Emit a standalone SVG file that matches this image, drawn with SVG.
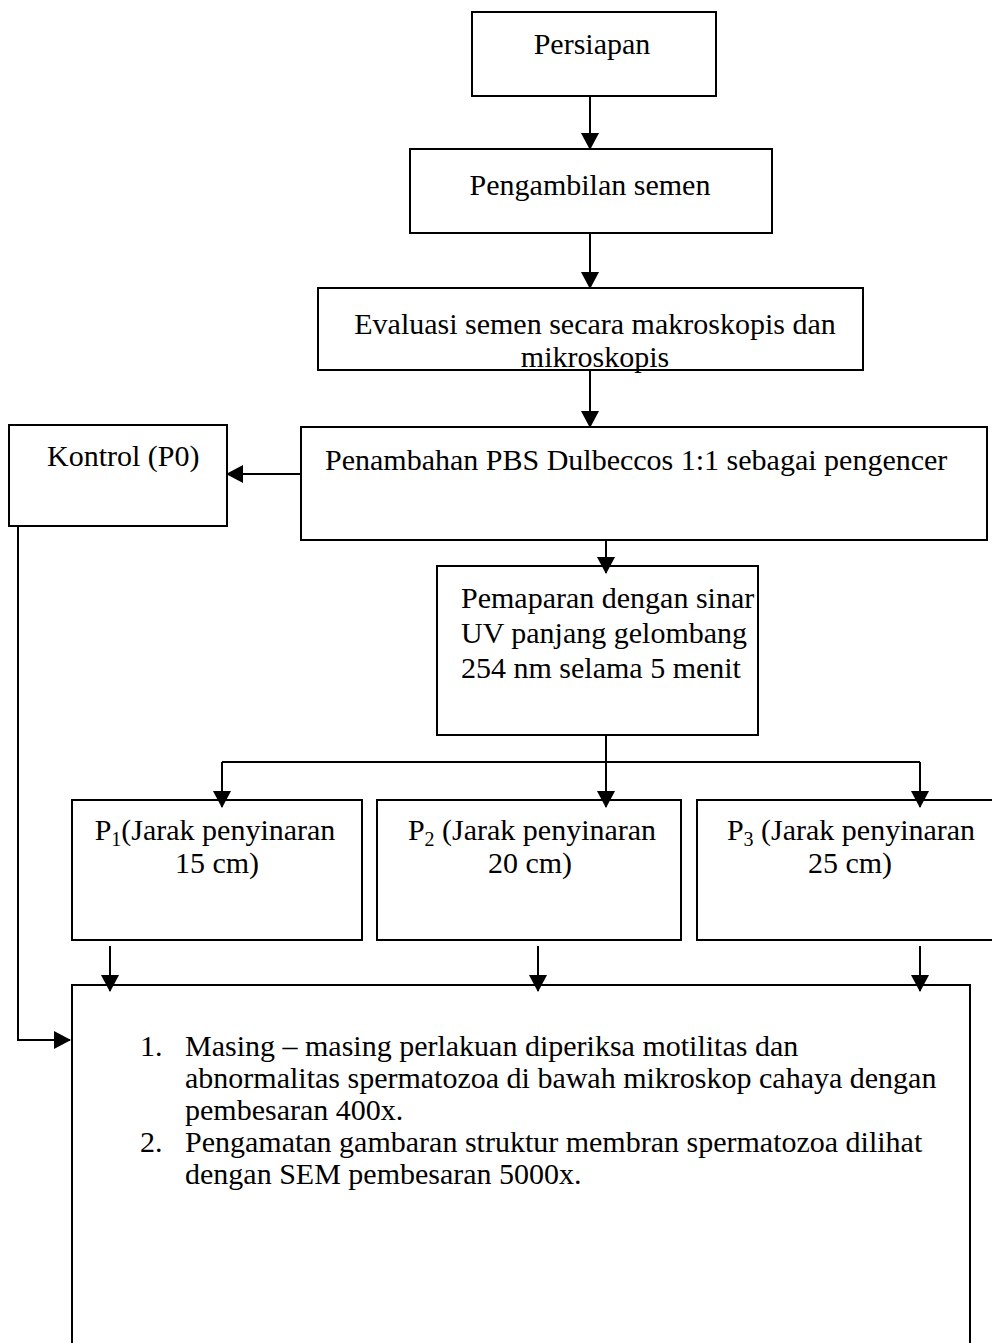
<svg xmlns="http://www.w3.org/2000/svg" width="992" height="1343" viewBox="0 0 992 1343">
<style>
  .box { fill: #ffffff; stroke: #000000; stroke-width: 2; }
  .t { font-family: "Liberation Serif", "Times New Roman", serif; font-size: 30px; fill: #000000; }
  .c { text-anchor: middle; }
  .ln { fill: none; stroke: #000000; stroke-width: 2; }
  .ar { fill: none; stroke: #000000; stroke-width: 2; marker-end: url(#ah); }
</style>
<defs>
  <marker id="ah" markerWidth="17" markerHeight="18" refX="16" refY="9" orient="auto" markerUnits="userSpaceOnUse">
    <path d="M0,0 L17,9 L0,18 z" fill="#000000"/>
  </marker>
</defs>
<rect width="992" height="1343" fill="#ffffff"/>

<g id="persiapan">
  <rect class="box" x="472" y="12" width="244" height="84"/>
  <text class="t c" x="592" y="54">Persiapan</text>
</g>
<g id="pengambilan">
  <rect class="box" x="410" y="149" width="362" height="84"/>
  <text class="t c" x="590" y="195">Pengambilan semen</text>
</g>
<g id="evaluasi">
  <text class="t c" x="595" y="334">Evaluasi semen secara makroskopis dan</text>
  <text class="t c" x="595" y="367">mikroskopis</text>
  <rect class="box" x="318" y="288" width="545" height="82" style="fill:none"/>
</g>
<g id="kontrol">
  <rect class="box" x="9" y="425" width="218" height="101"/>
  <text class="t" x="47" y="466">Kontrol (P0)</text>
</g>
<g id="penambahan">
  <rect class="box" x="301" y="427" width="686" height="113"/>
  <text class="t" x="325" y="470">Penambahan PBS Dulbeccos 1:1 sebagai pengencer</text>
</g>
<g id="pemaparan">
  <rect class="box" x="437" y="566" width="321" height="169"/>
  <text class="t" x="461" y="608">Pemaparan dengan sinar</text>
  <text class="t" x="461" y="643">UV panjang gelombang</text>
  <text class="t" x="461" y="678">254 nm selama 5 menit</text>
</g>
<g id="p1">
  <rect class="box" x="72" y="800" width="290" height="140"/>
  <text class="t c" x="215" y="840">P<tspan font-size="20" dy="6">1</tspan><tspan dy="-6">(Jarak penyinaran</tspan></text>
  <text class="t c" x="217" y="873">15 cm)</text>
</g>
<g id="p2">
  <rect class="box" x="377" y="800" width="304" height="140"/>
  <text class="t c" x="532" y="840">P<tspan font-size="20" dy="6">2</tspan><tspan dy="-6"> (Jarak penyinaran</tspan></text>
  <text class="t c" x="530" y="873">20 cm)</text>
</g>
<g id="p3">
  <rect class="box" x="697" y="800" width="320" height="140"/>
  <text class="t c" x="851" y="840">P<tspan font-size="20" dy="6">3</tspan><tspan dy="-6"> (Jarak penyinaran</tspan></text>
  <text class="t c" x="850" y="873">25 cm)</text>
</g>
<g id="hasil">
  <rect class="box" x="72" y="985" width="898" height="380"/>
  <text class="t" x="140" y="1056">1.</text>
  <text class="t" x="185" y="1056">Masing – masing perlakuan diperiksa motilitas dan</text>
  <text class="t" x="185" y="1088">abnormalitas spermatozoa di bawah mikroskop cahaya dengan</text>
  <text class="t" x="185" y="1120">pembesaran 400x.</text>
  <text class="t" x="140" y="1152">2.</text>
  <text class="t" x="185" y="1152">Pengamatan gambaran struktur membran spermatozoa dilihat</text>
  <text class="t" x="185" y="1184">dengan SEM pembesaran 5000x.</text>
</g>

<g id="connectors">
  <path class="ar" d="M590,96 V149"/>
  <path class="ar" d="M590,233 V288"/>
  <path class="ar" d="M590,370 V427"/>
  <path class="ar" d="M301,474 H227"/>
  <path class="ar" d="M606,540 V573"/>
  <path class="ln" d="M606,735 V762 M222,762 H920"/>
  <path class="ar" d="M222,762 V807"/>
  <path class="ar" d="M606,762 V807"/>
  <path class="ar" d="M920,762 V807"/>
  <path class="ar" d="M110,946 V991"/>
  <path class="ar" d="M538,946 V991"/>
  <path class="ar" d="M920,946 V991"/>
  <path class="ar" d="M18,526 V1040 H70"/>
</g>
</svg>
